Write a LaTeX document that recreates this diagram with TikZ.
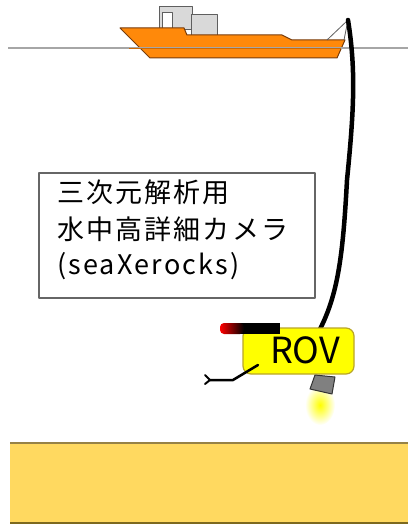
\documentclass[tikz,border=0pt]{standalone}
\usepackage{fontspec}
\newfontfamily\jpfont[LetterSpace=8]{Noto Sans CJK JP}
\newfontfamily\rovfont{Noto Sans CJK JP}
\definecolor{hull}{RGB}{255,137,10}
\definecolor{hulledge}{RGB}{120,60,10}
\definecolor{cabin}{RGB}{217,217,217}
\definecolor{cabinedge}{RGB}{95,95,95}
\definecolor{rovbody}{RGB}{255,255,0}
\definecolor{rovedge}{RGB}{185,165,40}
\definecolor{sand}{RGB}{255,217,96}
\definecolor{sandtop}{RGB}{150,130,70}
\definecolor{sandbottom}{RGB}{125,105,30}
\tikzset{
  jptext/.style={font=\jpfont\fontsize{27}{30}\selectfont, inner sep=0pt, anchor=base west},
  cabinbox/.style={fill=cabin, draw=cabinedge, line width=1pt},
  cable/.style={line width=4.5pt, line cap=round},
}

\begin{document}
\begin{tikzpicture}[x=1pt,y=-1pt,line join=round]
  \useasboundingbox (0,0) rectangle (408,524);

  \draw[cabinbox] (159,7) rectangle (192,30);
  \draw[fill=white, draw=cabinedge, line width=1pt] (162.5,13) rectangle (172,30);
  \draw[cabinbox] (191,15) rectangle (217,37);
  \draw[fill=hull, draw=hulledge, line width=1pt]
    (120,28) -- (184,28) -- (187,35) -- (282,35) -- (292,40) -- (345,40)
    -- (337,58) -- (150,58) -- cycle;
  \draw[gray!70, line width=1.2pt] (8,48) -- (408,48);
  \draw[hulledge!40!hull, line width=0.8pt] (129,48) -- (341,48);

  \coordinate (crane) at (348,20);
  \draw[cabinedge, line width=0.8pt] (327,40) -- (crane) -- (344,40);

  \coordinate (tether) at (319,331);
  \draw[cable] (crane) .. controls (356,70) and (354,110) .. (347,180)
    .. controls (343,255) and (338,295) .. (tether);
  \node[draw=rovedge, fill=rovbody, rounded corners=8pt, line width=1.2pt,
        minimum width=111pt, minimum height=46pt, inner sep=0pt] (rov) at (298.5,351) {};
  \node[font=\rovfont\fontsize{36}{40}\selectfont, inner sep=0pt] (rovtext) at (305,350) {ROV};

  \fill[black] (232,323) rectangle (280,334);
  \shade[left color=red, right color=black, rounded corners=4pt] (220,323) rectangle (244,334);

  \draw[line width=2.5pt, line cap=round] (258,365) -- (233,380) -- (210,380);
  \draw[line width=2pt, line cap=round] (205,375) -- (210,380) -- (205,384);

  \shade[inner color=yellow, outer color=white] (320,405) ellipse (15pt and 20pt);
  \draw[fill=gray, draw=black!80, line width=1pt]
    (315,375) -- (335,377) -- (332,394) -- (310,389) -- cycle;

  \draw[draw=black!60, line width=1.5pt] (39,173) rectangle (315,298);
  \node[jptext] (line1) at (57,202) {三次元解析用};
  \node[jptext] (line2) at (57,239) {水中高詳細カメラ};
  \node[jptext] (line3) at (57,274) {(seaXerocks)};

  \fill[sand] (10,443) rectangle (408,523);
  \draw[sandtop, line width=2pt] (10,443) -- (408,443);
  \draw[sandbottom, line width=2pt] (10,523) -- (408,523);
\end{tikzpicture}
\end{document}
